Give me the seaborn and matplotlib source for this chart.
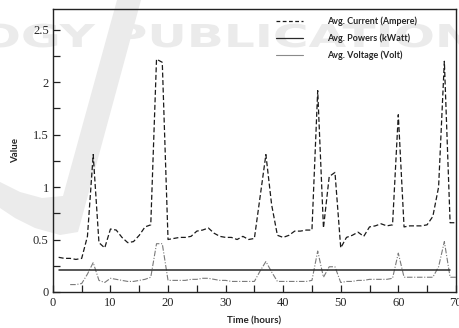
import matplotlib
matplotlib.use("Agg")
import matplotlib.pyplot as plt
import seaborn as sns
import pandas as pd
from matplotlib.lines import Line2D
from matplotlib.patches import Polygon, PathPatch
from matplotlib.textpath import TextPath
from matplotlib.font_manager import FontProperties
from matplotlib.transforms import Affine2D, IdentityTransform

# values
current_hours = list(range(1, 71))
current = [0.33, 0.32, 0.32, 0.31, 0.32, 0.53, 1.31, 0.47, 0.42, 0.60,
           0.59, 0.52, 0.47, 0.48, 0.54, 0.62, 0.64, 2.22, 2.19, 0.50,
           0.51, 0.52, 0.52, 0.53, 0.58, 0.59, 0.61, 0.56, 0.53, 0.52,
           0.52, 0.50, 0.53, 0.50, 0.51, 0.91, 1.31, 0.83, 0.54, 0.52,
           0.54, 0.58, 0.58, 0.59, 0.59, 1.92, 0.61, 1.10, 1.14, 0.42,
           0.52, 0.54, 0.57, 0.53, 0.62, 0.63, 0.65, 0.63, 0.64, 1.69,
           0.62, 0.63, 0.63, 0.63, 0.64, 0.72, 1.00, 2.20, 0.66, 0.66]

voltage_hours = list(range(3, 71))
voltage = [0.07, 0.07, 0.08, 0.17, 0.28, 0.11, 0.09, 0.13, 0.12, 0.11,
           0.10, 0.10, 0.11, 0.12, 0.14, 0.46, 0.46, 0.11, 0.11, 0.11,
           0.11, 0.12, 0.12, 0.13, 0.13, 0.12, 0.11, 0.11, 0.10, 0.10,
           0.10, 0.10, 0.10, 0.20, 0.29, 0.19, 0.10, 0.10, 0.10, 0.10,
           0.10, 0.10, 0.11, 0.39, 0.14, 0.24, 0.24, 0.09, 0.10, 0.10,
           0.11, 0.11, 0.12, 0.12, 0.12, 0.12, 0.13, 0.37, 0.14, 0.14,
           0.14, 0.14, 0.14, 0.14, 0.24, 0.48, 0.14, 0.14]

power_hours = [1, 69]
power = [0.21, 0.21]

labels = ["Avg. Current (Ampere)", "Avg. Powers (kWatt)", "Avg. Voltage (Volt)"]

df_cur = pd.DataFrame({"time": current_hours, "value": current})
df_vol = pd.DataFrame({"time": voltage_hours, "value": voltage})
df_pow = pd.DataFrame({"time": power_hours, "value": power})

sns.set_style("ticks")
plt.rcParams["font.family"] = ["Liberation Serif", "DejaVu Serif"]

fig = plt.figure(figsize=(4.6, 3.28), dpi=100)
ax = fig.add_axes([0.115, 0.110, 0.876, 0.863])
ax.set_facecolor("none")

# faint publisher watermark behind the plot
wm = "#ebebeb"
W, H = 460, 328
hook = [(117, 0), (141, 0), (78, 232), (60, 235), (35, 228), (15, 218),
        (0, 208), (0, 182), (20, 192), (42, 198), (63, 196)]
fig.patches.append(Polygon([(x / W, 1 - y / H) for x, y in hook], closed=True,
                           transform=fig.transFigure, facecolor=wm,
                           edgecolor="none", zorder=-2))
tp = TextPath((0, 0), "OGY PUBLICATIONS", size=1,
              prop=FontProperties(family="DejaVu Sans", weight="bold"))
ext = tp.get_extents()
tr = Affine2D().translate(-ext.x0, 0).scale(525 / ext.width, 23 / 0.73).translate(-18, H - 47)
wm_patch = PathPatch(tr.transform_path(tp), facecolor=wm, edgecolor="none", zorder=-2)
wm_patch.set_transform(IdentityTransform())
fig.patches.append(wm_patch)

sns.lineplot(data=df_cur, x="time", y="value", ax=ax, color="#1a1a1a",
             linewidth=0.9, linestyle=(0, (4, 2)))
sns.lineplot(data=df_vol, x="time", y="value", ax=ax, color="#7a7a7a",
             linewidth=0.8, linestyle=(0, (5, 1.5, 1, 1.5)))
sns.lineplot(data=df_pow, x="time", y="value", ax=ax, color="#2a2a2a",
             linewidth=1.1)

ax.set_xlim(0, 70)
ax.set_ylim(0, 2.7)
ax.set_xticks(range(0, 71, 10))
ax.set_xticks(range(5, 70, 10), minor=True)
ax.set_yticks([0, 0.5, 1, 1.5, 2, 2.5])
ax.set_yticklabels(["0", "0.5", "1", "1.5", "2", "2.5"])
ax.set_yticks([0.25, 0.75, 1.25, 1.75, 2.25], minor=True)
ax.tick_params(which="both", direction="in", length=5, width=0.9,
               labelsize=9, color="#222222")
ax.tick_params(axis="y", pad=3)
ax.tick_params(axis="x", pad=4)
for s in ax.spines.values():
    s.set_linewidth(1.0)
    s.set_color("#222222")

lab_font = dict(family=["Lato", "DejaVu Sans"], weight="bold", size=7)
ax.set_xlabel("Time (hours)", labelpad=5, **lab_font)
ax.set_ylabel("Value", labelpad=9, **lab_font)

handles = [Line2D([], [], color="#1a1a1a", lw=0.9, ls=(0, (3, 2))),
           Line2D([], [], color="#2a2a2a", lw=0.9),
           Line2D([], [], color="#8a8a8a", lw=0.8)]
ax.legend(handles, labels, loc="upper right", bbox_to_anchor=(0.915, 0.99),
          frameon=False, handlelength=3.0, handletextpad=2.7,
          labelspacing=0.85, borderpad=0,
          prop=dict(family=["Lato", "DejaVu Sans"], weight="bold", size=6.5))

fig.savefig("out.png", dpi=100)
